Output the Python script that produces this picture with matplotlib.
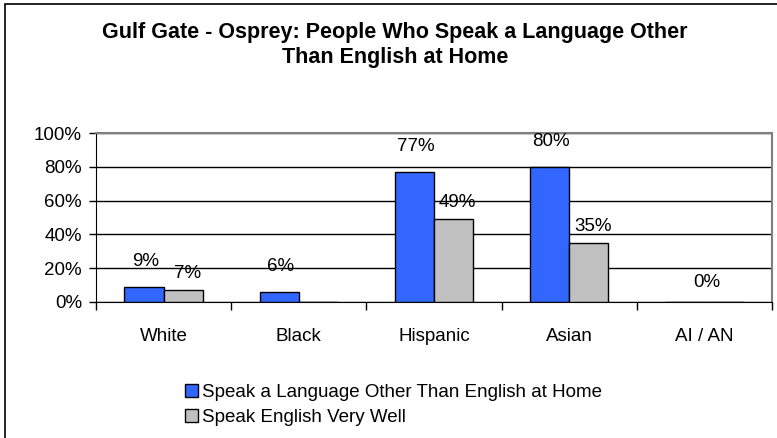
import numpy as np
import matplotlib
matplotlib.use('Agg')
import matplotlib.pyplot as plt
from matplotlib.patches import Rectangle

plt.rcParams['font.family'] = ['Liberation Sans', 'DejaVu Sans']

title = 'Gulf Gate - Osprey: People Who Speak a Language Other\nThan English at Home'
categories = ['White', 'Black', 'Hispanic', 'Asian', 'AI / AN']
other_lang = [9, 6, 77, 80, 0]
english_well = [7, 0, 49, 35, 0]
series_names = ['Speak a Language Other Than English at Home', 'Speak English Very Well']
yticks = [0, 20, 40, 60, 80, 100]

BLUE = '#3366FF'
GRAY = '#C0C0C0'
FS = 13.5

fig = plt.figure(figsize=(7.77, 4.38), dpi=100)
ax = fig.add_axes([96 / 777, 1 - 302 / 438, 676 / 777, 169 / 438])

x = np.arange(len(categories))
w = 0.29
b1 = ax.bar(x - w / 2, other_lang, w, color=BLUE, edgecolor='black', linewidth=1.0,
            label=series_names[0], zorder=3)
b2 = ax.bar(x + w / 2, english_well, w, color=GRAY, edgecolor='black', linewidth=1.0,
            label=series_names[1], zorder=3)

# data labels
for xi, v in zip(x, other_lang):
    if v == 0:
        continue
    ax.annotate('%d%%' % v, (xi - w / 2, v), xytext=(1, 18), textcoords='offset points',
                ha='center', va='center', fontsize=FS)
for xi, v in zip(x, english_well):
    if v == 0:
        continue
    ax.annotate('%d%%' % v, (xi + w / 2, v), xytext=(3, 12), textcoords='offset points',
                ha='center', va='center', fontsize=FS)
# both zero -> one label in the middle
for xi, a, b in zip(x, other_lang, english_well):
    if a == 0 and b == 0:
        ax.annotate('0%', (xi + 0.02, 0), xytext=(0, 14), textcoords='offset points',
                    ha='center', va='center', fontsize=FS)

ax.set_xlim(-0.5, len(categories) - 0.5)
ax.set_ylim(0, 100)
ax.set_yticks(yticks)
ax.set_yticklabels(['%d%%' % t for t in yticks], fontsize=FS)
ax.yaxis.grid(True, color='black', linewidth=1.0, zorder=0)
ax.tick_params(axis='y', direction='out', length=5, width=1, pad=5)

ax.set_xticks(x)
ax.set_xticklabels(categories, fontsize=FS)
ax.tick_params(axis='x', which='major', length=0, pad=19)
ax.set_xticks(np.arange(-0.5, len(categories)), minor=True)
ax.tick_params(axis='x', which='minor', direction='out', length=6, width=1)

for s in ['top', 'right']:
    ax.spines[s].set_color('#808080')
    ax.spines[s].set_linewidth(1.5)
ax.spines['left'].set_color('black')
ax.spines['bottom'].set_color('black')

fig.text(395 / 777, 1 - 45 / 438, title, ha='center', va='center', fontsize=15.5,
         fontweight='bold', linespacing=1.3)

leg = fig.legend(handles=[b1, b2], loc='upper left', bbox_to_anchor=(185 / 777, 1 - 384 / 438),
                 frameon=False, fontsize=FS, handlelength=0.7, handleheight=0.7,
                 handletextpad=0.2, labelspacing=0.42, borderpad=0, borderaxespad=0)

# outer chart frame
fig.patches.append(Rectangle((5 / 777, -0.05), 1.2, 1.05 - 4 / 438, transform=fig.transFigure,
                             fill=False, edgecolor='black', linewidth=1.2))

fig.savefig('out.png', dpi=100)
